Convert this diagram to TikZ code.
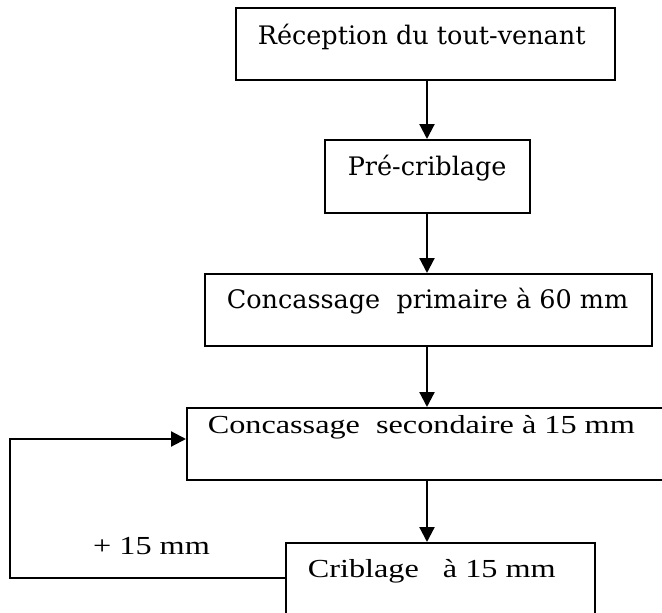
\documentclass[tikz,border=0pt]{standalone}
\usepackage{fontspec}
\usetikzlibrary{arrows.meta}
\newfontfamily\boxfont{DejaVu Serif}
\newfontfamily\timesfont[FakeStretch=1.24]{Liberation Serif}
\tikzset{
  stage/.style={draw, line width=1.6pt, rectangle, inner sep=0pt, anchor=north west},
  flow/.style={line width=2.2pt, -{Triangle[width=15pt,length=15pt]}},
  bookfont/.style={font=\boxfont\fontsize{25.5}{30}\selectfont},
  romanfont/.style={font=\timesfont\fontsize{26}{30}\selectfont},
}
\begin{document}
\begin{tikzpicture}[x=1pt,y=-1pt]
\useasboundingbox (0,0) rectangle (662,613);
\clip (0,0) rectangle (662,613);
\fill[white] (0,0) rectangle (662,613);

% process stages (boxes sized by width, height above and below the baseline)
\node[stage, bookfont, text height=37pt, text depth=35pt] (b1) at (235,7)
  {\makebox[379pt][l]{\hspace*{22pt}Réception du tout-venant}};
\node[stage, bookfont, text height=36pt, text depth=37pt] (b2) at (324,139)
  {\makebox[205pt][l]{\hspace*{23pt}Pré-criblage}};
\node[stage, bookfont, text height=35pt, text depth=37pt] (b3) at (204,273)
  {\makebox[447pt][l]{\hspace*{22pt}Concassage\ \ primaire à 60 mm}};
\node[stage, romanfont, text height=26pt, text depth=46pt] (b4) at (186,407)
  {\makebox[490pt][l]{\hspace*{21pt}Concassage\ \ secondaire à 15 mm}};
\node[stage, romanfont, text height=35pt, text depth=45pt] (b5) at (285,542)
  {\makebox[309pt][l]{\hspace*{22pt}Criblage\ \ \ à 15 mm}};

% recycle label
\node[romanfont, anchor=base west, inner sep=0pt] (lbl) at (93,554) {+ 15 mm};

% main vertical flow
\coordinate (ax) at (427,0);
\draw[flow] (b1.south -| ax) -- (b2.north -| ax);
\draw[flow] (b2.south -| ax) -- (b3.north -| ax);
\draw[flow] (b3.south -| ax) -- (b4.north -| ax);
\draw[flow] (b4.south -| ax) -- (b5.north -| ax);

% oversize return loop from screening back to secondary crushing
\coordinate (fb) at (10,0);
\coordinate (ret) at (0,439);
\draw[flow] (b5.base -| b5.west) -- (fb |- b5.base) -- (fb |- ret) -- (b4.west |- ret);
\end{tikzpicture}
\end{document}
